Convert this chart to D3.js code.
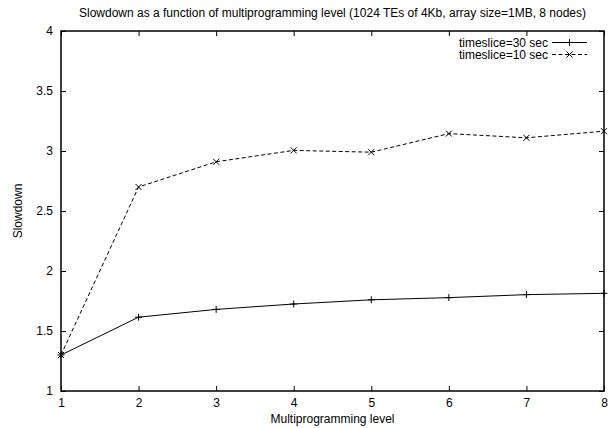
<!DOCTYPE html>
<html>
<head>
<meta charset="utf-8">
<script src="https://cdn.jsdelivr.net/npm/d3@7"></script>
<style>
  html, body { margin: 0; padding: 0; background: #fff; }
  svg { display: block; font-family: "Liberation Sans", Arial, Helvetica, sans-serif; }
</style>
</head>
<body>
<svg id="chart" width="613" height="428"></svg>
<script>
// ---- data ----
const levels = [1, 2, 3, 4, 5, 6, 7, 8];
const slowdown30 = [1.30, 1.615, 1.68, 1.725, 1.76, 1.778, 1.803, 1.814];
const slowdown10 = [1.30, 2.70, 2.91, 3.005, 2.99, 3.145, 3.11, 3.165];
const seriesNames = ["timeslice=30 sec", "timeslice=10 sec"];
const xTicks = [1, 2, 3, 4, 5, 6, 7, 8];
const yTicks = [1, 1.5, 2, 2.5, 3, 3.5, 4];
const titleText = "Slowdown as a function of multiprogramming level (1024 TEs of 4Kb, array size=1MB, 8 nodes)";
const xLabel = "Multiprogramming level";
const yLabel = "Slowdown";

// ---- layout ----
const svg = d3.select("#chart");
const pL = 61, pR = 604, pT = 31, pB = 391;
const x = d3.scaleLinear().domain([1, 8]).range([pL, pR]);
const y = d3.scaleLinear().domain([1, 4]).range([pB, pT]);
const tickLen = 5;
const fs = 12;

// title
svg.append("text").attr("x", (pL + pR) / 2).attr("y", 17)
  .attr("text-anchor", "middle").attr("font-size", fs).text(titleText);

// axes (inward ticks on all sides)
const gB = svg.append("g").attr("transform", `translate(0,${pB})`)
  .call(d3.axisBottom(x).tickValues(xTicks).tickSizeInner(-tickLen).tickSizeOuter(0).tickPadding(7).tickFormat(d3.format("d")));
const gT = svg.append("g").attr("transform", `translate(0,${pT})`)
  .call(d3.axisTop(x).tickValues(xTicks).tickSizeInner(-tickLen).tickSizeOuter(0).tickFormat(""));
const gL = svg.append("g").attr("transform", `translate(${pL},0)`)
  .call(d3.axisLeft(y).tickValues(yTicks).tickSizeInner(-tickLen).tickSizeOuter(0).tickPadding(8).tickFormat(d => String(d)));
const gR = svg.append("g").attr("transform", `translate(${pR},0)`)
  .call(d3.axisRight(y).tickValues(yTicks).tickSizeInner(-tickLen).tickSizeOuter(0).tickFormat(""));
[gB, gT, gL, gR].forEach(g => {
  g.select(".domain").remove();
  g.selectAll(".tick line").attr("stroke", "#000").attr("stroke-width", 1);
  g.selectAll(".tick text").attr("font-size", fs).attr("fill", "#000")
   .attr("font-family", "'Liberation Sans', Arial, sans-serif");
});
// frame
svg.append("rect").attr("x", pL).attr("y", pT).attr("width", pR - pL).attr("height", pB - pT)
  .attr("fill", "none").attr("stroke", "#000").attr("stroke-width", 1.5);

// axis labels
svg.append("text").attr("x", (pL + pR) / 2).attr("y", 423)
  .attr("text-anchor", "middle").attr("font-size", fs).text(xLabel);
svg.append("text").attr("transform", `translate(22,${(pT + pB) / 2}) rotate(-90)`)
  .attr("text-anchor", "middle").attr("font-size", fs).text(yLabel);

// series
const line = d3.line().x(d => x(d[0])).y(d => y(d[1]));
const s30 = levels.map((l, i) => [l, slowdown30[i]]);
const s10 = levels.map((l, i) => [l, slowdown10[i]]);

function plus(g, cx, cy, r) {
  g.append("path").attr("d", `M${cx - r},${cy}H${cx + r}M${cx},${cy - r}V${cy + r}`)
    .attr("stroke", "#000").attr("stroke-width", 1).attr("fill", "none");
}
function cross(g, cx, cy, r) {
  g.append("path").attr("d", `M${cx - r},${cy - r}L${cx + r},${cy + r}M${cx - r},${cy + r}L${cx + r},${cy - r}`)
    .attr("stroke", "#000").attr("stroke-width", 1).attr("fill", "none");
}

const plotG = svg.append("g");
plotG.append("path").datum(s10).attr("d", line).attr("fill", "none")
  .attr("stroke", "#000").attr("stroke-width", 1).attr("stroke-dasharray", "4,2.5");
plotG.append("path").datum(s30).attr("d", line).attr("fill", "none")
  .attr("stroke", "#000").attr("stroke-width", 1);
s30.forEach(d => plus(plotG, x(d[0]), y(d[1]), 3.5));
s10.forEach(d => cross(plotG, x(d[0]), y(d[1]), 3));

// legend
const legX1 = 552, legX2 = 587, legTextX = 548;
const legRows = [42.5, 54.5];
const lg = svg.append("g");
seriesNames.forEach((name, i) => {
  const yy = legRows[i];
  lg.append("text").attr("x", legTextX).attr("y", yy).attr("dy", "0.35em")
    .attr("text-anchor", "end").attr("font-size", fs).text(name);
  lg.append("line").attr("x1", legX1).attr("x2", legX2).attr("y1", yy).attr("y2", yy)
    .attr("stroke", "#000").attr("stroke-width", 1)
    .attr("stroke-dasharray", i === 1 ? "4,2.5" : null);
  if (i === 0) plus(lg, (legX1 + legX2) / 2, yy, 3.5);
  else cross(lg, (legX1 + legX2) / 2, yy, 3);
});
</script>
</body>
</html>
